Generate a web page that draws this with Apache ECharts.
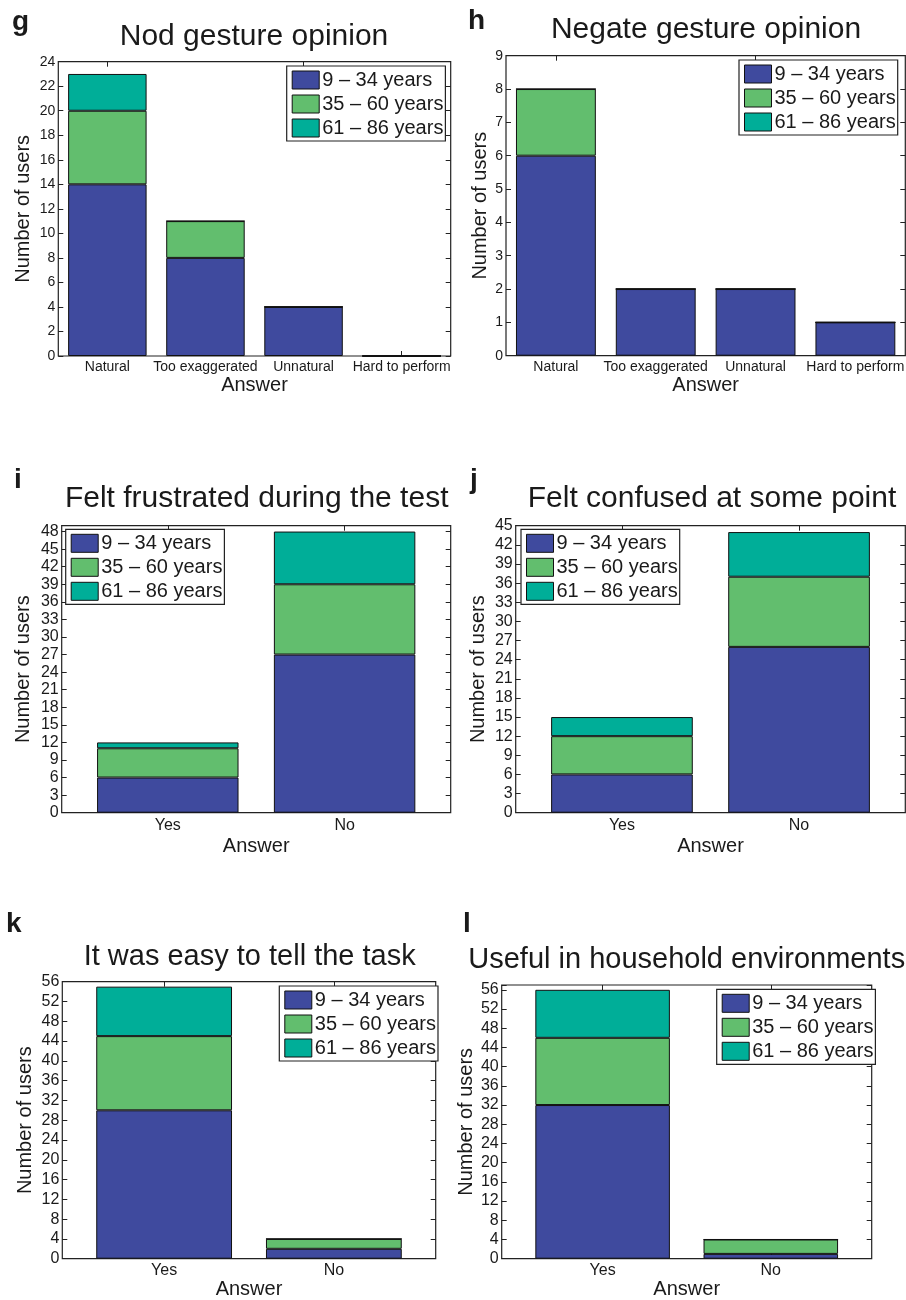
<!DOCTYPE html>
<html>
<head>
<meta charset="utf-8">
<script src="https://cdn.jsdelivr.net/npm/echarts@6/dist/echarts.min.js"></script>
<style>
  html, body { margin: 0; padding: 0; background: #fff; }
  #chart { width: 906px; height: 1300px; }
</style>
</head>
<body>
<div id="chart"></div>
<script>
// ---------------- DATA ----------------
const ageGroups = ['9 – 34 years', '35 – 60 years', '61 – 86 years'];
const opinionCats = ['Natural', 'Too exaggerated', 'Unnatural', 'Hard to perform'];
const yesNoCats = ['Yes', 'No'];

const nodYoung = [14, 8, 4, 0];
const nodMid   = [6, 3, 0, 0];
const nodOld   = [3, 0, 0, 0];

const negYoung = [6, 2, 2, 1];
const negMid   = [2, 0, 0, 0];
const negOld   = [0, 0, 0, 0];

const frusYoung = [6, 27];
const frusMid   = [5, 12];
const frusOld   = [1, 9];

const confYoung = [6, 26];
const confMid   = [6, 11];
const confOld   = [3, 7];

const easyYoung = [30, 2];
const easyMid   = [15, 2];
const easyOld   = [10, 0];

const usefulYoung = [32, 1];
const usefulMid   = [14, 3];
const usefulOld   = [10, 0];

const panelLetters = ['g', 'h', 'i', 'j', 'k', 'l'];
const panelTitles = [
  'Nod gesture opinion',
  'Negate gesture opinion',
  'Felt frustrated during the test',
  'Felt confused at some point',
  'It was easy to tell the task',
  'Useful in household environments'
];
const yMaxes = [24, 9, 49, 45, 56, 57];
const yIntervals = [2, 1, 3, 3, 4, 4];
const yAxisName = 'Number of users';
const xAxisName = 'Answer';

const panelCats = [opinionCats, opinionCats, yesNoCats, yesNoCats, yesNoCats, yesNoCats];
const panelSeries = [
  [nodYoung, nodMid, nodOld],
  [negYoung, negMid, negOld],
  [frusYoung, frusMid, frusOld],
  [confYoung, confMid, confOld],
  [easyYoung, easyMid, easyOld],
  [usefulYoung, usefulMid, usefulOld]
];

// ---------------- LAYOUT / STYLE ----------------
const FONT = "'Liberation Sans', Arial, Helvetica, sans-serif";
const TXT = '#1a1a1a';
const LINE = '#222';
const colors = ['#3f4a9e', '#62be6e', '#00ae98'];

// plot rectangles: [left, top, right, bottom]
const plotRects = [
  [58.3, 61.7, 450.7, 356],
  [506, 55.7, 905.3, 355.7],
  [61.7, 525.7, 450.7, 812.7],
  [515.7, 525.7, 905.3, 812.7],
  [62.3, 981.7, 435.7, 1258.7],
  [501.7, 985, 871.7, 1258.7]
];
const tickFont = [14, 14, 16, 16, 16, 16];
const xLabFont = [14, 14, 16, 16, 16, 16];
const yNameGap = [24.8, 16, 28.2, 27.2, 27.1, 24.9];
const xNameGap = [19, 19.3, 23.5, 23.5, 21, 21];
const xLabMargin = [4, 4, 5, 5, 4, 4];
const legendPos = [[286.7, 66], [739, 60], [65.7, 529.3], [521, 529.3], [279.3, 986], [716.7, 989.3]];
const titlePos = [[254, 37, 30], [706, 30, 30], [256.7, 498.5, 30], [712, 498.5, 30], [249.7, 957, 29], [686.7, 960.3, 29]];
const letterPos = [[12, 22], [468, 21], [14, 480.5], [470, 480.3], [6, 924.5], [463, 924.5]];

const grids = [], xAxes = [], yAxes = [], series = [], legends = [], graphics = [];

for (let p = 0; p < 6; p++) {
  const [l, t, r, b] = plotRects[p];
  const w = r - l, h = b - t;
  const cats = panelCats[p];
  const inset = cats.length === 2 ? w / 22 : 0;

  // outer grid: frame + y axes
  grids.push({ left: l, top: t, width: w, height: h, show: true, borderColor: LINE, borderWidth: 1.2,
               backgroundColor: 'transparent', containLabel: false, outerBoundsMode: 'none' });
  // inner grid: bars + category axes
  grids.push({ left: l + inset, top: t, width: w - 2 * inset, height: h, show: false,
               containLabel: false, outerBoundsMode: 'none' });

  const gOuter = 2 * p, gInner = 2 * p + 1;
  const M = yMaxes[p], I = yIntervals[p];

  // x axes
  xAxes.push({ type: 'value', gridIndex: gOuter, show: false, min: 0, max: 1 });
  xAxes.push({
    type: 'category', gridIndex: gInner, position: 'bottom', data: cats, boundaryGap: true,
    axisLine: { show: false },
    axisTick: { show: true, inside: true, alignWithLabel: true, length: 5, lineStyle: { color: LINE, width: 1 } },
    axisLabel: { interval: 0, fontSize: xLabFont[p], fontFamily: FONT, color: TXT, margin: xLabMargin[p] },
    splitLine: { show: false },
    name: xAxisName, nameLocation: 'middle', nameGap: xNameGap[p],
    nameTextStyle: { fontSize: 20, fontFamily: FONT, color: TXT }
  });
  xAxes.push({
    type: 'category', gridIndex: gInner, position: 'top', data: cats, boundaryGap: true,
    axisLine: { show: false },
    axisTick: { show: true, inside: true, alignWithLabel: true, length: 5, lineStyle: { color: LINE, width: 1 } },
    axisLabel: { show: false }, splitLine: { show: false }
  });

  // y axes
  const yFmt = v => (Math.round(v) % I === 0 ? String(v) : '');
  yAxes.push({
    type: 'value', gridIndex: gOuter, position: 'left', min: 0, max: M, interval: I,
    axisLine: { show: false },
    axisTick: { show: true, inside: true, length: 5, lineStyle: { color: LINE, width: 1 } },
    axisLabel: { fontSize: tickFont[p], fontFamily: FONT, color: TXT, margin: 3, formatter: yFmt },
    splitLine: { show: false },
    name: yAxisName, nameLocation: 'middle', nameGap: yNameGap[p],
    nameTextStyle: { fontSize: 20, fontFamily: FONT, color: TXT }
  });
  yAxes.push({
    type: 'value', gridIndex: gOuter, position: 'right', min: 0, max: M, interval: I,
    axisLine: { show: false },
    axisTick: { show: true, inside: true, length: 5, lineStyle: { color: LINE, width: 1 } },
    axisLabel: { show: false }, splitLine: { show: false }
  });
  yAxes.push({ type: 'value', gridIndex: gInner, show: false, min: 0, max: M, splitLine: { show: false } });

  const xi = 3 * p + 1, yi = 3 * p + 2;
  panelSeries[p].forEach((vals, k) => {
    series.push({
      type: 'bar', name: ageGroups[k], xAxisIndex: xi, yAxisIndex: yi, stack: 'panel' + p,
      data: vals, barWidth: '80%',
      itemStyle: { color: colors[k], borderColor: '#111', borderWidth: 1 },
      emphasis: { disabled: true }, animation: false, silent: true
    });
  });

  legends.push({
    data: ageGroups, orient: 'vertical', left: legendPos[p][0], top: legendPos[p][1],
    itemWidth: 27, itemHeight: 18, itemGap: 4, padding: [4, 2, 3, 5],
    backgroundColor: '#fff', borderColor: LINE, borderWidth: 1.2, borderRadius: 0,
    icon: 'rect', selectedMode: false, z: 20,
    itemStyle: { borderColor: '#111', borderWidth: 1 },
    textStyle: { fontSize: 20, fontFamily: FONT, color: TXT, padding: [0, 0, 0, -2] }
  });

  graphics.push({
    type: 'text', x: titlePos[p][0], y: titlePos[p][1], z: 30,
    style: { text: panelTitles[p], fontSize: titlePos[p][2], fontFamily: FONT, fill: TXT,
             align: 'center', verticalAlign: 'middle' }
  });
  graphics.push({
    type: 'text', x: letterPos[p][0], y: letterPos[p][1], z: 30,
    style: { text: panelLetters[p], fontSize: 28, fontWeight: 'bold', fontFamily: FONT, fill: TXT,
             align: 'left', verticalAlign: 'middle' }
  });
}

const chart = echarts.init(document.getElementById('chart'), null, { renderer: 'canvas' });
chart.setOption({
  animation: false,
  backgroundColor: '#fff',
  textStyle: { fontFamily: FONT },
  grid: grids,
  xAxis: xAxes,
  yAxis: yAxes,
  legend: legends,
  series: series,
  graphic: graphics
});
</script>
</body>
</html>
